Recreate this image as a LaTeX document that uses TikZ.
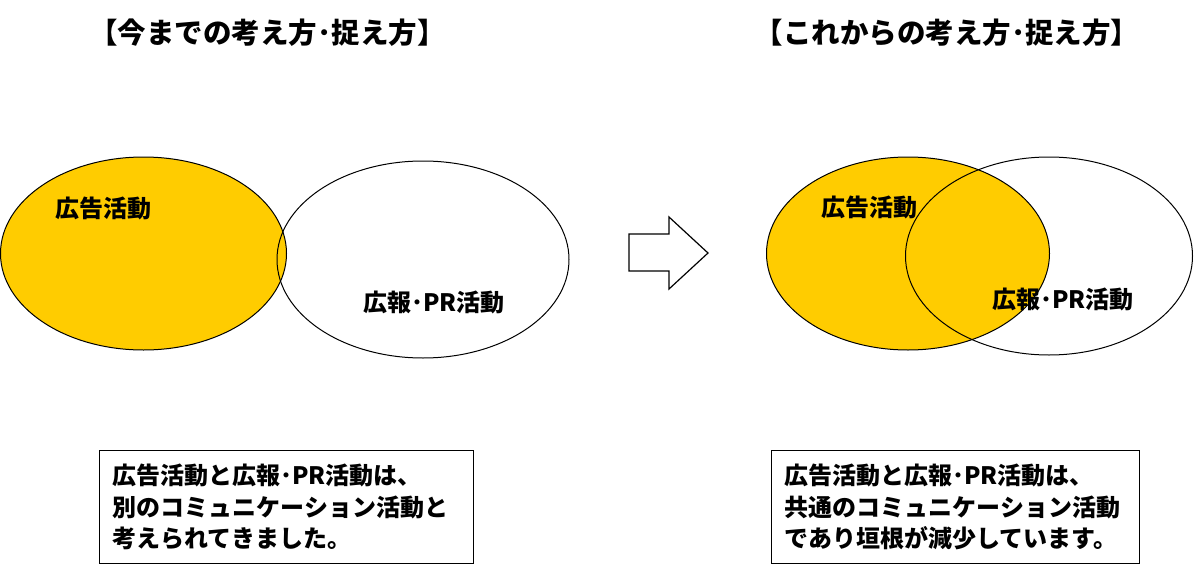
\documentclass[tikz,border=0pt]{standalone}
\usepackage{fontspec}
\newfontfamily\jpfont{Noto Sans CJK JP}
\definecolor{kouko}{HTML}{FFCC00}
\begin{document}
\begin{tikzpicture}[x=1pt,y=-1pt,line width=1pt,
		headline/.style={font=\jpfont\bfseries\fontsize{28.5}{32}\selectfont},
		tag/.style={anchor=west,inner sep=0pt,font=\jpfont\bfseries\fontsize{24}{28}\selectfont},
		memo/.style={draw,anchor=north west,minimum width=374pt,minimum height=113pt,
			inner xsep=13pt,text width=348pt,align=left,
			font=\jpfont\bfseries\fontsize{24}{31.5}\selectfont}]
		\useasboundingbox (0,0) rectangle (1200,570);
		% titles
		\node[headline] (t1) at (267.5,33) {【今までの考え方･捉え方】};
		\node[headline] (t2) at (947,33) {【これからの考え方･捉え方】};
		% before
		\fill[kouko] (143.5,253.5) ellipse [x radius=143,y radius=96.5];
		\draw (143.5,253.5) ellipse [x radius=143,y radius=96.5];
		\draw (423,259.5) ellipse [x radius=146,y radius=98.5];
		\node[tag] (a1) at (55,208) {広告活動};
		\node[tag] (p1) at (363,302) {広報･PR活動};
		% arrow
		\draw[line width=1.2pt] (629,234)--(669,234)--(669,217)--(708,253)--(669,289)--(669,271)--(629,271)--cycle;
		% after
		\fill[kouko] (908,253.5) ellipse [x radius=141.5,y radius=96.5];
		\draw (908,253.5) ellipse [x radius=141.5,y radius=96.5];
		\draw (1049,256) ellipse [x radius=143.5,y radius=99];
		\node[tag] (a2) at (821,207) {広告活動};
		\node[tag] (p2) at (992,299) {広報･PR活動};
		% notes
		\node[memo] (m1) at (99,450) {広告活動と広報･PR活動は、\\別のコミュニケーション活動と\\考えられてきました。};
		\node[memo,minimum width=368pt,text width=342pt] (m2) at (771,450) {広告活動と広報･PR活動は、\\共通のコミュニケーション活動\\であり垣根が減少しています。};
	\end{tikzpicture}
\end{document}
